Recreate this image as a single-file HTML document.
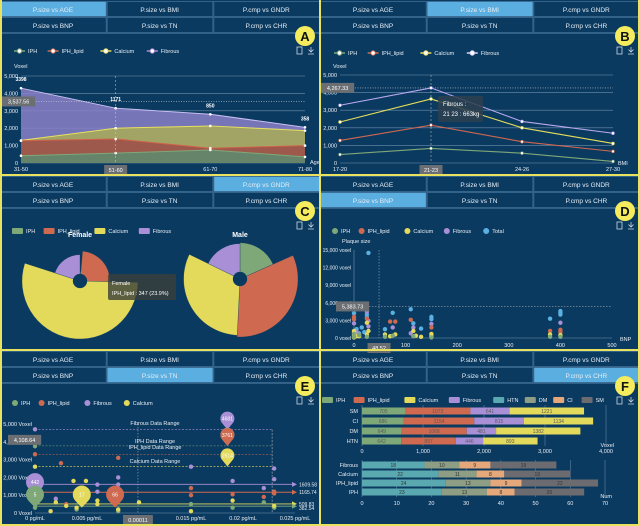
<!DOCTYPE html>
<html><head><meta charset="utf-8"><style>
html,body{margin:0;padding:0;background:#0b3a60;}
svg{display:block;font-family:"Liberation Sans",sans-serif;}
</style></head><body>
<svg id="fig" width="640" height="526" viewBox="0 0 640 526" xmlns="http://www.w3.org/2000/svg">
<rect x="0" y="0" width="640" height="526" fill="#0b3a60"/>
</svg>
<script>
// ---------- DATA ----------
const ageCats = ["31-50","51-60","61-70","71-80"];
const ageIPH = [420,570,750,350];
const ageLipid = [1280,1380,850,1000];
const ageCalcium = [1300,2000,2130,1860];
const ageFibrous = [4300,3150,2800,2050];
const ageTicks = [0,1000,2000,3000,4000,5000];

const bmiCats = ["17-20","21-23","24-26","27-30"];
const bmiIPH = [480,830,560,90];
const bmiLipid = [1280,2150,1210,660];
const bmiCalcium = [2330,3640,2000,1110];
const bmiFibrous = [3280,4267,2360,1690];

const femaleVals = [20,347,790,290];
const maleVals = [350,620,600,340];

const bnpTotal = [[0,4800],[0,4200],[15,1800],[25,4700],[25,4000],[25,3500],[28,14500],[20,1000],[75,4300],[110,4900],[115,2500],[130,1600],[150,3600],[150,3200],[380,3300],[400,4600],[400,4300],[400,4000],[60,1500],[10,800],[5,1500]];
const bnpFibrous = [[0,2500],[28,2900],[28,2000],[75,1800],[115,1800],[150,2400],[400,2600],[25,4500],[110,800],[5,1000]];
const bnpLipid = [[0,3600],[0,3200],[25,3300],[70,2800],[80,2800],[110,3100],[150,1800],[380,1200],[400,1400],[400,1000]];
const bnpCalcium = [[0,500],[0,900],[0,1200],[5,300],[10,300],[25,600],[25,2600],[28,1200],[60,600],[70,300],[80,600],[115,1200],[120,400],[130,200],[150,700],[150,300],[380,600],[400,500],[0,100]];
const bnpIPH = [[0,200],[0,700],[10,500],[25,200],[60,200],[75,400],[115,300],[150,100],[380,200],[400,200]];
const bnpYTicks = [0,3000,6000,9000,12000,15000];
const bnpXTicks = [0,100,200,300,400,500];

const tnFibrous = [[0,4700],[0,2100],[0,1900],[0,1600],[0.002,800],[0.004,1000],[0.006,1600],[0.008,2000],[0.008,1600],[0.015,2600],[0.019,1800],[0.023,2500],[0.023,1900],[0.022,1400],[0.006,1200]];
const tnLipid = [[0,3300],[0.0025,2800],[0.008,3100],[0.015,1400],[0.015,1000],[0.019,1050],[0.022,900],[0.023,1200],[0.023,1100],[0.003,500]];
const tnIPH = [[0,3750],[0,300],[0.004,200],[0.008,100],[0.015,500],[0.019,300],[0.022,600],[0.023,300]];
const tnCalcium = [[0,2600],[0.0037,1800],[0.0049,1800],[0.006,700],[0.006,500],[0.002,600],[0.003,400],[0.004,300],[0.01,600],[0.015,100],[0.019,700],[0.023,400],[0.0015,100],[0.008,200]];
const tnPins = [[0.0185,4681,"4681"],[0.0185,3771,"3771"],[0.0185,3761,"3761"],[0.0185,2614,"2614"],[0,1000,"442"],[0,300,"5"],[0.0045,300,"17"],[0.0077,300,"66"]];
const tnMarkVals = [1609.58,1165.74,509.83,382.54];
const tnYTicks = [0,1000,2000,3000,4000,5000];
const tnXTicks = [0,0.005,0.01,0.015,0.02,0.025];

const chrCats = ["SM","CI","DM","HTN"];
const chrIPH = [705,686,649,642];
const chrLipid = [1073,1154,1068,897];
const chrFibrous = [641,815,481,446];
const chrCalcium = [1221,1134,1382,893];
const compCats = ["Fibrous","Calcium","IPH_lipid","IPH"];
const compHTN = [18,22,24,23];
const compDM = [10,11,13,13];
const compCI = [9,8,9,8];
const compSM = [19,19,22,20];

// ---------- HELPERS ----------
const NS="http://www.w3.org/2000/svg";
const svg=document.getElementById('fig');
const C={IPH:"#7fa878",Lipid:"#cf6a50",Calcium:"#e3d95a",Fibrous:"#a98fd6",Total:"#5ab0e0",HTN:"#5aa8b0",DM:"#8e9e84",CI:"#e5a87a",SM:"#6c6c70",grid:"#6f8fab",text:"#e8eef4"};
function mk(tag,attrs,parent){const e=document.createElementNS(NS,tag);for(const k in attrs)e.setAttribute(k,attrs[k]);(parent||svg).appendChild(e);return e;}
function tx(x,y,s,size,fill,anchor,parent,weight){const e=mk('text',{x:x,y:y,'font-size':size,fill:fill||C.text,'text-anchor':anchor||'start','font-weight':weight||'normal'},parent);e.textContent=s;return e;}
function lin(d0,d1,r0,r1){return v=>r0+(v-d0)/(d1-d0)*(r1-r0);}
function grp(parent){return mk('g',{},parent);}

const panels=[
 {x:0,y:0,active:0,letter:"A"},{x:320,y:0,active:1,letter:"B"},
 {x:0,y:175,active:2,letter:"C"},{x:320,y:175,active:3,letter:"D"},
 {x:0,y:350,active:4,letter:"E"},{x:320,y:350,active:5,letter:"F"}];
const tabNames=["P.size vs AGE","P.size vs BMI","P.cmp vs GNDR","P.size vs BNP","P.size vs TN","P.cmp vs CHR"];

panels.forEach((p,pi)=>{
  const g=grp();
  
  
  for(let t=0;t<6;t++){
    const tx0=p.x+(t%3)*106.67, ty0=p.y+1+Math.floor(t/3)*16;
    const r=mk('rect',{x:tx0+0.5,y:ty0+0.5,width:105.7,height:15,fill:t===p.active?"#5aaee0":"#0b3a60",stroke:"#3f6e95","stroke-width":0.8},g);
    
    
    const tt=tx(tx0+53,ty0+11,tabNames[t],6.5,"#e8eef4","middle",g);
    
    
  }
  mk('line',{x1:p.x,y1:p.y+33.5,x2:p.x+320,y2:p.y+33.5,stroke:"#3f6e95","stroke-width":0.8},g);
  const badge=mk('circle',{cx:p.x+305,cy:p.y+36,r:10,fill:"#f4ec5c"},g);
  
  
  tx(p.x+305,p.y+41,p.letter,13,"#111","middle",g,"bold");
  const ic1=mk('rect',{x:p.x+297,y:p.y+47,width:5,height:7,fill:"none",stroke:"#cfd8e0","stroke-width":0.8},g);
  
  
  const ic2=mk('path',{d:`M${p.x+311} ${p.y+47}v5m-2.5 -2.5l2.5 2.5l2.5 -2.5M${p.x+308} ${p.y+54}h6`,fill:"none",stroke:"#cfd8e0","stroke-width":0.8},g);
  
  
});

function lineLegend(x,y,items,parent){
  let cx=x;
  items.forEach(it=>{
    const g=grp(parent);
    
    
    mk('line',{x1:cx,y1:y,x2:cx+11,y2:y,stroke:it[1],"stroke-width":1.5},g);
    mk('circle',{cx:cx+5.5,cy:y,r:2.2,fill:"#fff",stroke:it[1],"stroke-width":1},g);
    tx(cx+14,y+2,it[0],5.5,C.text,'start',g);
    cx+=14+it[0].length*3.2+10;
  });
}
function dotLegend(x,y,items,parent,sq){
  let cx=x;
  items.forEach(it=>{
    const g=grp(parent);
    
    
    if(sq) mk('rect',{x:cx,y:y-3,width:11,height:6,fill:it[1],rx:1},g);
    else mk('circle',{cx:cx+3,cy:y,r:3,fill:it[1]},g);
    const off=sq?14:9;
    tx(cx+off,y+2,it[0],5.5,C.text,'start',g);
    cx+=off+it[0].length*3.2+8;
  });
}
function valueBox(x,y,s,parent,anchor){
  const w=s.length*3.4+6;
  const bx=anchor==='middle'?x-w/2:(anchor==='end'?x-w:x);
  const b=mk('rect',{x:bx,y:y-5,width:w,height:10,fill:"#6b6f73"},parent);
  
  
  tx(bx+w/2,y+2,s,5.5,"#fff","middle",parent);
}

// ---------- PANEL A : area chart ----------
(function(){
  const g=grp();
  
  
  const X=lin(0,3,21,305), Y=lin(0,5000,163,76);
  lineLegend(14,51,[["IPH",C.IPH],["IPH_lipid",C.Lipid],["Calcium",C.Calcium],["Fibrous",C.Fibrous]],g);
  tx(14,68,"Voxel",5.5,C.text,'start',g);
  ageTicks.forEach(t=>{
    mk('line',{x1:21,y1:Y(t),x2:305,y2:Y(t),stroke:C.grid,"stroke-width":0.6},g);
    tx(18,Y(t)+2,t.toLocaleString('en-US'),5.5,C.text,'end',g);
  });
  const series=[[ageFibrous,"#8a80c8","Fibrous"],[ageCalcium,"#a9ad55","Calcium"],[ageLipid,"#9c4c48","IPH_lipid"],[ageIPH,"#5d8c70","IPH"]];
  series.forEach(s=>{
    let d=`M${X(0)} ${Y(0)}`;
    s[0].forEach((v,i)=>d+=`L${X(i)} ${Y(v)}`);
    d+=`L${X(3)} ${Y(0)}Z`;
    const a=mk('path',{d:d,fill:s[1],"fill-opacity":0.85},g);
    
    
    let l=''; s[0].forEach((v,i)=>l+=(i?'L':'M')+X(i)+' '+Y(v));
    mk('path',{d:l,fill:"none",stroke:s===series[0]?"#c8c0f0":(s===series[1]?"#e8e060":(s===series[2]?"#d0604a":"#7fa878")),"stroke-width":1},g);
    s[0].forEach((v,i)=>mk('circle',{cx:X(i),cy:Y(v),r:1.3,fill:"#fff"},g));
  });
  ["3398","1171","850","358"].forEach((s,i)=>tx(X(i),Y(ageFibrous[i])-7,s,5,"#fff","middle",g,"bold"));
  mk('line',{x1:X(1),y1:76,x2:X(1),y2:163,stroke:"#ccc","stroke-dasharray":"2,2","stroke-width":0.5},g);
  mk('line',{x1:21,y1:Y(3537.56),x2:305,y2:Y(3537.56),stroke:"#ccc","stroke-dasharray":"1,1.5","stroke-width":0.6},g);
  valueBox(2,Y(3537.56),"3,537.56",g,'start');
  ageCats.forEach((c,i)=>{ if(i!==1) tx(X(i),171,c,5.5,C.text,'middle',g); });
  valueBox(X(1),170,"51-60",g,'middle');
  tx(310,164,"Age",5.5,C.text,'start',g);
})();

// ---------- PANEL B : line chart ----------
(function(){
  const g=grp();
  
  
  const X=lin(0,3,340,613), Y=lin(0,5000,163,75);
  lineLegend(334,53,[["IPH",C.IPH],["IPH_lipid",C.Lipid],["Calcium",C.Calcium],["Fibrous","#d8d0f8"]],g);
  tx(333,68,"Voxel",5.5,C.text,'start',g);
  ageTicks.forEach(t=>{
    mk('line',{x1:340,y1:Y(t),x2:613,y2:Y(t),stroke:C.grid,"stroke-width":0.6},g);
    tx(337,Y(t)+2,t.toLocaleString('en-US'),5.5,C.text,'end',g);
  });
  mk('line',{x1:X(1),y1:75,x2:X(1),y2:163,stroke:"#ccc","stroke-dasharray":"2,2","stroke-width":0.5},g);
  mk('line',{x1:340,y1:Y(4267.33),x2:613,y2:Y(4267.33),stroke:"#ccc","stroke-dasharray":"1,1.5","stroke-width":0.6},g);
  [[bmiIPH,"#7fa878","IPH"],[bmiLipid,"#d0684f","IPH_lipid"],[bmiCalcium,"#e5de5a","Calcium"],[bmiFibrous,"#b9a8f0","Fibrous"]].forEach(s=>{
    let d=''; s[0].forEach((v,i)=>d+=(i?'L':'M')+X(i)+' '+Y(v));
    const p=mk('path',{d:d,fill:"none",stroke:s[1],"stroke-width":1.1},g);
    
    
    s[0].forEach((v,i)=>mk('circle',{cx:X(i),cy:Y(v),r:1.4,fill:"#fff",stroke:s[1],"stroke-width":0.6},g));
  });
  valueBox(321,Y(4267.33),"4,267.33",g,'start');
  const tip=mk('rect',{x:438,y:96,width:45,height:26,fill:"#2e3f4f","fill-opacity":0.85,rx:2},g);
  
  
  tx(443,106,"Fibrous :",6,"#fff",'start',g);
  tx(443,116,"21  23 : 663kg",6,"#fff",'start',g);
  bmiCats.forEach((c,i)=>{ if(i!==1) tx(X(i),171,c,5.5,C.text,'middle',g); });
  valueBox(X(1),170,"21-23",g,'middle');
  tx(618,165,"BMI",5.5,C.text,'start',g);
})();

// ---------- PANEL C : rose pies ----------
function sector(cx,cy,r0,r1,a0,a1){
  const rad=a=>(a-90)*Math.PI/180;
  const p=(r,a)=>[cx+r*Math.cos(rad(a)),cy+r*Math.sin(rad(a))];
  const large=(a1-a0)>180?1:0;
  const [x1,y1]=p(r1,a0),[x2,y2]=p(r1,a1),[x3,y3]=p(r0,a1),[x4,y4]=p(r0,a0);
  return `M${x1} ${y1}A${r1} ${r1} 0 ${large} 1 ${x2} ${y2}L${x3} ${y3}A${r0} ${r0} 0 ${large} 0 ${x4} ${y4}Z`;
}
(function(){
  const g=grp();
  
  
  dotLegend(12,231,[["IPH",C.IPH],["IPH_lipid",C.Lipid],["Calcium",C.Calcium],["Fibrous",C.Fibrous]],g,true);
  const cols=[C.IPH,C.Lipid,C.Calcium,C.Fibrous], nm=["iph","iph-lipid","calcium","fibrous"];
  [[femaleVals,80,281,"Female"],[maleVals,240,279,"Male"]].forEach(pie=>{
    const vals=pie[0], tot=vals.reduce((a,b)=>a+b,0), mx=Math.max(...vals);
    let a=0;
    vals.forEach((v,i)=>{
      const da=v/tot*360, R=8+(v/mx)*50;
      const s=mk('path',{d:sector(pie[1],pie[2],7,R,a,a+da),fill:cols[i],stroke:"#0b3a60","stroke-width":0.3},g);
      
      
      a+=da;
    });
    mk('circle',{cx:pie[1],cy:pie[2],r:7,fill:"#0b3a60"},g);
    tx(pie[1],237,pie[3],7,"#fff","middle",g,"bold");
  });
  const tip=mk('rect',{x:108,y:274,width:68,height:26,fill:"#3a3f3a","fill-opacity":0.8,rx:2},g);
  
  
  tx(112,285,"Female",5.5,"#fff",'start',g);
  tx(112,295,"IPH_lipid : 347 (23.9%)",5.5,"#fff",'start',g);
})();

// ---------- PANEL D : scatter BNP ----------
(function(){
  const g=grp();
  
  
  const X=lin(0,500,354,612), Y=lin(0,15000,338,250);
  dotLegend(332,231,[["IPH",C.IPH],["IPH_lipid",C.Lipid],["Calcium",C.Calcium],["Fibrous",C.Fibrous],["Total",C.Total]],g,false);
  tx(342,243,"Plaque size",5.5,C.text,'start',g);
  mk('line',{x1:354,y1:250,x2:354,y2:338,stroke:C.grid,"stroke-width":0.6},g);
  mk('line',{x1:354,y1:338,x2:612,y2:338,stroke:C.grid,"stroke-width":0.6},g);
  bnpYTicks.forEach(t=>tx(351,Y(t)+2,t.toLocaleString('en-US')+" voxel",5,C.text,'end',g));
  bnpXTicks.forEach(t=>{ if(t!==0||true) tx(X(t),347,String(t),5.5,C.text,'middle',g); });
  tx(620,341,"BNP",5.5,C.text,'start',g);
  mk('line',{x1:X(48.52),y1:250,x2:X(48.52),y2:338,stroke:"#bbb","stroke-dasharray":"1.5,1.5","stroke-width":0.5},g);
  mk('line',{x1:354,y1:Y(5383.73),x2:612,y2:Y(5383.73),stroke:"#bbb","stroke-dasharray":"1.5,1.5","stroke-width":0.5},g);
  [[bnpTotal,C.Total,"total"],[bnpFibrous,C.Fibrous,"fibrous"],[bnpLipid,C.Lipid,"iph-lipid"],[bnpCalcium,C.Calcium,"calcium"],[bnpIPH,C.IPH,"iph"]].forEach(s=>{
    s[0].forEach(pt=>{
      const c=mk('circle',{cx:X(pt[0]),cy:Y(pt[1]),r:2.2,fill:s[1]},g);
      
      
    });
  });
  valueBox(336,Y(5383.73),"5,383.73",g,'start');
  valueBox(X(48.52),348,"48.52",g,'middle');
})();

// ---------- PANEL E : scatter TN ----------
(function(){
  const g=grp();
  
  
  const X=lin(0,0.025,35,295), Y=lin(0,5000,513,424);
  dotLegend(12,403,[["IPH",C.IPH],["IPH_lipid",C.Lipid],["Fibrous",C.Fibrous],["Calcium",C.Calcium]],g,false);
  tnYTicks.forEach(t=>tx(32,Y(t)+2,t.toLocaleString('en-US')+" Voxel",5.5,C.text,'end',g));
  tnXTicks.forEach(t=>tx(X(t),520,t+" pg/mL",5.5,C.text,'middle',g));
  mk('line',{x1:35,y1:513,x2:295,y2:513,stroke:C.grid,"stroke-width":0.6},g);
  // data ranges
  [[4681,C.Fibrous,"Fibrous Data Range",425],[3771,C.IPH,"IPH Data Range",443],[3300,C.Lipid,"IPH_lipid Data Range",449],[2600,C.Calcium,"Calcium Data Range",463]].forEach(r=>{
    mk('line',{x1:35,y1:Y(r[0]),x2:X(0.0228),y2:Y(r[0]),stroke:r[1],"stroke-dasharray":"2,1.5","stroke-width":0.6},g);
    tx(155,r[3],r[2],5.5,C.text,'middle',g);
  });
  mk('line',{x1:X(0.0228),y1:Y(4681),x2:X(0.0228),y2:513,stroke:"#bbb","stroke-dasharray":"2,1.5","stroke-width":0.6},g);
  mk('line',{x1:X(0.0099),y1:424,x2:X(0.0099),y2:513,stroke:"#bbb","stroke-dasharray":"1.5,1.5","stroke-width":0.5},g);
  const mcols=[C.Fibrous,C.Lipid,C.Calcium,C.IPH];
  tnMarkVals.forEach((v,i)=>{
    const l=mk('line',{x1:35,y1:Y(v),x2:292,y2:Y(v),stroke:mcols[i],"stroke-width":0.9},g);
    
    
    mk('path',{d:`M292 ${Y(v)-2.5}L297 ${Y(v)}L292 ${Y(v)+2.5}Z`,fill:mcols[i]},g);
    tx(299,Y(v)+2+(i===3?2:0),String(v),5,C.text,'start',g);
  });
  [[tnFibrous,C.Fibrous,"fibrous"],[tnLipid,C.Lipid,"iph-lipid"],[tnIPH,C.IPH,"iph"],[tnCalcium,C.Calcium,"calcium"]].forEach(s=>{
    s[0].forEach(pt=>{
      const c=mk('circle',{cx:X(pt[0]),cy:Y(pt[1]),r:2.2,fill:s[1]},g);
      
      
    });
  });
  const pcols=[C.Fibrous,C.IPH,C.Lipid,C.Calcium,C.Fibrous,C.IPH,C.Calcium,C.Lipid];
  tnPins.forEach((p,i)=>{
    const x=X(p[0]), y=Y(p[1]), big=i>=4;
    const r=big?9:7;
    const cy=y-r-4;
    const pin=mk('path',{d:`M${x} ${y}L${x-r*0.7} ${cy+r*0.7}A${r} ${r} 0 1 1 ${x+r*0.7} ${cy+r*0.7}Z`,fill:pcols[i]},g);
    
    
    tx(x,cy+2,p[2],5,"#fff","middle",g);
  });
  valueBox(8,Y(4108.64),"4,108.64",g,'start');
  valueBox(X(0.0099),520,"0.00011",g,'middle');
})();

// ---------- PANEL F : stacked bars ----------
(function(){
  const g=grp();
  
  
  dotLegend(322,400,[["IPH",C.IPH],["IPH_lipid",C.Lipid],["Calcium",C.Calcium],["Fibrous",C.Fibrous],["HTN",C.HTN],["DM",C.DM],["CI",C.CI],["SM",C.SM]],g,true);
  const X1=lin(0,4000,362,606);
  [0,1000,2000,3000,4000].forEach(t=>{
    if(t>0) mk('line',{x1:X1(t),y1:405,x2:X1(t),y2:446,stroke:C.grid,"stroke-width":0.5},g);
    tx(X1(t),453,t.toLocaleString('en-US'),5.5,C.text,'middle',g);
  });
  mk('line',{x1:362,y1:405,x2:362,y2:446,stroke:C.grid,"stroke-width":0.6},g);
  tx(614,447,"Voxel",5.5,C.text,'end',g);
  const s1=[[chrIPH,C.IPH,"iph"],[chrLipid,C.Lipid,"iph-lipid"],[chrFibrous,C.Fibrous,"fibrous"],[chrCalcium,C.Calcium,"calcium"]];
  chrCats.forEach((c,ri)=>{
    const y=411+ri*10;
    tx(358,y+2,c,5.5,C.text,'end',g);
    let acc=0;
    s1.forEach(s=>{
      const v=s[0][ri];
      const b=mk('rect',{x:X1(acc),y:y-3.5,width:X1(acc+v)-X1(acc),height:7,fill:s[1]},g);
      
      
      tx((X1(acc)+X1(acc+v))/2,y+2,String(v),5,"#5a5a5a",'middle',g);
      acc+=v;
    });
  });
  const X2=lin(0,70,362,605);
  [0,10,20,30,40,50,60,70].forEach(t=>{
    if(t>0) mk('line',{x1:X2(t),y1:460,x2:X2(t),y2:497,stroke:C.grid,"stroke-width":0.5},g);
    tx(X2(t),505,String(t),5.5,C.text,'middle',g);
  });
  mk('line',{x1:362,y1:460,x2:362,y2:497,stroke:C.grid,"stroke-width":0.6},g);
  tx(612,498,"Num",5.5,C.text,'end',g);
  const s2=[[compHTN,C.HTN,"htn"],[compDM,C.DM,"dm"],[compCI,C.CI,"ci"],[compSM,C.SM,"sm"]];
  compCats.forEach((c,ri)=>{
    const y=465+ri*9;
    tx(358,y+2,c,5.5,C.text,'end',g);
    let acc=0;
    s2.forEach(s=>{
      const v=s[0][ri];
      const b=mk('rect',{x:X2(acc),y:y-3.5,width:X2(acc+v)-X2(acc),height:7,fill:s[1]},g);
      
      
      tx((X2(acc)+X2(acc+v))/2,y+2,String(v),5,"#333",'middle',g);
      acc+=v;
    });
  });
})();

// ---------- separators ----------
const sep=[[320,0,320,526],[0,175,640,175],[0,350,640,350],[1,0,1,526],[639,0,639,526],[0,525,640,525]];
sep.forEach(s=>{
  const l=mk('line',{x1:s[0],y1:s[1],x2:s[2],y2:s[3],stroke:"#e9e25e","stroke-width":2});
  
  
});
</script>
</body></html>
